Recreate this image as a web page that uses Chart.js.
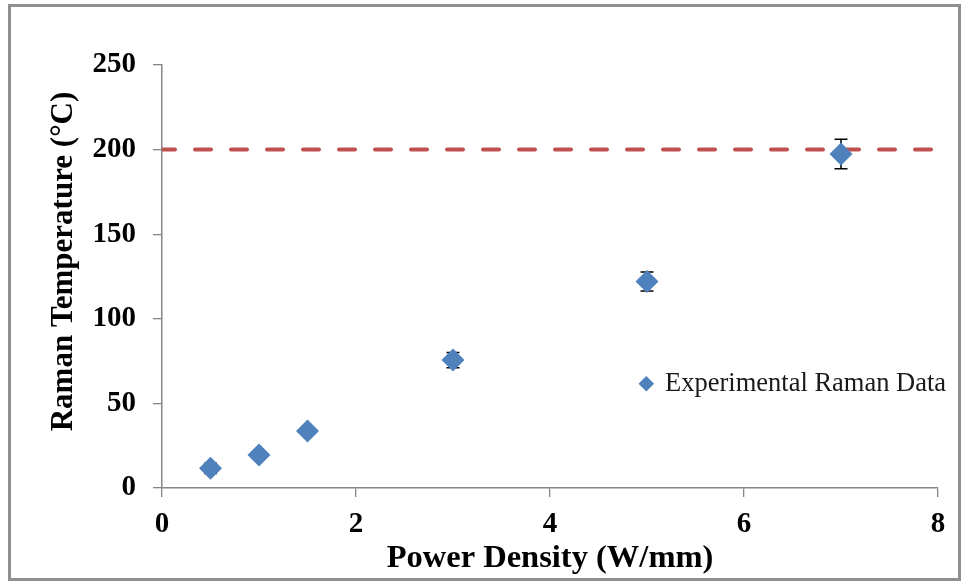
<!DOCTYPE html>
<html>
<head>
<meta charset="utf-8">
<script src="https://cdn.jsdelivr.net/npm/chart.js@4/dist/chart.umd.min.js"></script>
<style>
  html, body { margin: 0; padding: 0; background: #fff; }
  #frame {
    position: absolute; left: 8px; top: 4px;
    width: 947px; height: 571px;
    border: 3px solid #8f8f8f;
    background: #fff;
  }
  canvas { display: block; }
</style>
</head>
<body>
<div id="frame"><canvas id="c" width="947" height="571"></canvas></div>
<script>
// Measured Raman temperature versus power density
const powerDensity = [0.5, 1, 1.5, 3, 5, 7];          // W/mm
const ramanTemp    = [11.6, 19.5, 33.7, 75.6, 122, 197.4]; // °C
const tempError    = [3, 2, 2, 4.5, 5.6, 8.7];         // ± °C
const limitTemp = 200;                                 // reference level, °C
const xRange = [0, 8];
const yRange = [0, 250];
const xStep = 2;
const yStep = 50;

const seriesName = 'Experimental Raman Data';
const xTitle = 'Power Density (W/mm)';
const yTitle = 'Raman Temperature (°C)';

const FONT = "'Liberation Serif', 'Times New Roman', serif";
const AXIS_GREY = '#868686';
const BLUE = '#4F81BD';
const RED = '#C0504D';

// Vertical error bars with caps, drawn beneath the markers
const errorBars = {
  id: 'errorBars',
  beforeDatasetsDraw(chart) {
    const meta = chart.getDatasetMeta(0);
    const ys = chart.scales.y;
    const ctx = chart.ctx;
    ctx.save();
    ctx.strokeStyle = '#000';
    ctx.lineWidth = 1.5;
    meta.data.forEach((pt, i) => {
      const v = ramanTemp[i], e = tempError[i];
      const yTop = ys.getPixelForValue(v + e);
      const yBot = ys.getPixelForValue(v - e);
      const x = pt.x, cap = 6.5;
      ctx.beginPath();
      ctx.moveTo(x, yTop); ctx.lineTo(x, yBot);
      ctx.moveTo(x - cap, yTop); ctx.lineTo(x + cap, yTop);
      ctx.moveTo(x - cap, yBot); ctx.lineTo(x + cap, yBot);
      ctx.stroke();
    });
    ctx.restore();
  }
};

// Rotated y-axis title
const yAxisTitle = {
  id: 'yAxisTitle',
  afterDraw(chart) {
    const ctx = chart.ctx;
    const area = chart.chartArea;
    ctx.save();
    ctx.translate(53, (area.top + area.bottom) / 2 - 15);
    ctx.rotate(-Math.PI / 2);
    ctx.font = 'bold 31px ' + FONT;
    ctx.fillStyle = '#000';
    ctx.textAlign = 'center';
    ctx.textBaseline = 'middle';
    ctx.fillText(yTitle, 0, 0);
    ctx.restore();
  }
};

// Place the legend box inside the plot, to the right
const legendPlacement = {
  id: 'legendPlacement',
  afterLayout(chart) {
    const lg = chart.legend;
    if (!lg) return;
    const area = chart.chartArea;
    const pad = lg.options.labels.padding;
    const left = area.left + (area.right - area.left) * 0.617 - pad;
    const top = area.top + (area.bottom - area.top) * 0.722 - pad;
    const w = 320, h = 60;
    lg.left = left; lg.top = top;
    lg.right = left + w; lg.bottom = top + h;
    lg.width = w; lg.height = h;
  }
};

new Chart(document.getElementById('c'), {
  type: 'scatter',
  data: {
    datasets: [
      {
        label: seriesName,
        data: powerDensity.map((x, i) => ({ x, y: ramanTemp[i] })),
        pointStyle: 'rectRot',
        pointRadius: 11.5,
        pointHoverRadius: 11.5,
        backgroundColor: BLUE,
        borderColor: BLUE,
        borderWidth: 0,
        showLine: false
      },
      {
        label: 'limit',
        type: 'line',
        data: [{ x: xRange[0], y: limitTemp }, { x: xRange[1], y: limitTemp }],
        borderColor: RED,
        borderWidth: 4,
        borderDash: [16, 20],
        borderDashOffset: 3,
        borderCapStyle: 'round',
        pointRadius: 0,
        fill: false
      }
    ]
  },
  options: {
    responsive: false,
    animation: false,
    devicePixelRatio: 1,
    layout: { padding: { top: 58, right: 20, left: 0, bottom: 0 } },
    scales: {
      x: {
        type: 'linear',
        min: xRange[0], max: xRange[1],
        ticks: {
          stepSize: xStep,
          color: '#000',
          padding: 10,
          font: { family: FONT, size: 29, weight: 'bold' }
        },
        grid: { drawOnChartArea: false, drawTicks: true, tickLength: 9, color: AXIS_GREY, lineWidth: 1.3 },
        border: { display: true, color: AXIS_GREY, width: 1.5 },
        title: {
          display: true,
          text: xTitle,
          color: '#000',
          padding: { top: 3, bottom: 0 },
          font: { family: FONT, size: 32.5, weight: 'bold' }
        },
        afterFit(s) { s.height = 90; }
      },
      y: {
        type: 'linear',
        min: yRange[0], max: yRange[1],
        ticks: {
          stepSize: yStep,
          color: '#000',
          padding: 17,
          font: { family: FONT, size: 29, weight: 'bold' }
        },
        grid: { drawOnChartArea: false, drawTicks: true, tickLength: 9, color: AXIS_GREY, lineWidth: 1.3 },
        border: { display: true, color: AXIS_GREY, width: 1.5 },
        afterFit(s) { s.width = 151; }
      }
    },
    plugins: {
      legend: {
        display: true,
        position: 'chartArea',
        align: 'start',
        labels: {
          usePointStyle: true,
          boxWidth: 11,
          boxHeight: 11,
          padding: 10,
          color: '#1a1a1a',
          font: { family: FONT, size: 26.5 },
          filter: (item) => item.datasetIndex === 0
        }
      },
      tooltip: { enabled: false }
    }
  },
  plugins: [errorBars, yAxisTitle, legendPlacement]
});
</script>
</body>
</html>
